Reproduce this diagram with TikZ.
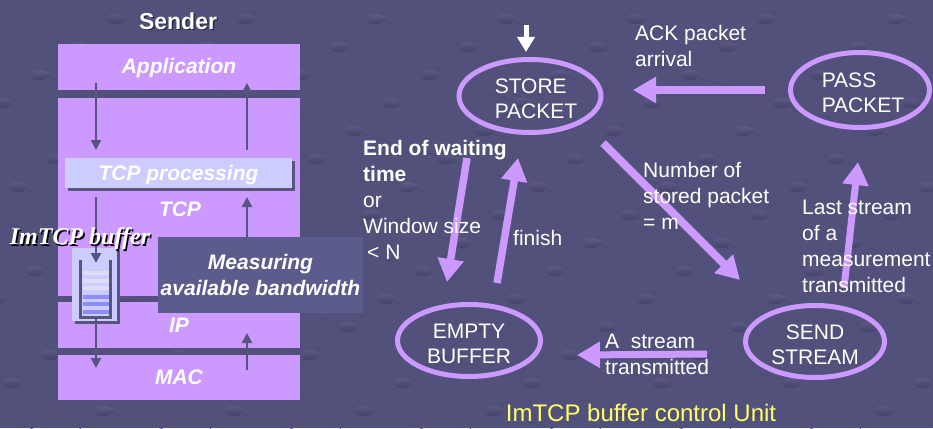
\documentclass[tikz,border=0pt]{standalone}
\usepackage{fontspec}
\setmainfont{Liberation Sans}
\newfontfamily\serifface{Liberation Serif}
\usetikzlibrary{arrows.meta,shapes.geometric,calc}

\definecolor{bg}{HTML}{51517B}
\definecolor{lav}{HTML}{CC99FF}
\definecolor{pale}{HTML}{CCCCFF}
\definecolor{ink}{HTML}{55557F}
\definecolor{meas}{HTML}{5B5B8C}
\definecolor{stripeA}{HTML}{DDDDF4}
\definecolor{stripeB}{HTML}{8C8CFF}
\definecolor{unitY}{HTML}{FFFF66}
\definecolor{shade}{HTML}{2A2A48}
\definecolor{gridline}{HTML}{4A4A73}
\definecolor{dotTop}{HTML}{5A5A86}
\definecolor{dotBot}{HTML}{424269}

\begin{document}
\begin{tikzpicture}[x=1pt,y=-1pt,
  lbl/.style={text=white,inner sep=0pt,font=\fontsize{21}{26}\selectfont},
  layer/.style={fill=lav,draw=none,inner sep=0pt,outer sep=0pt,anchor=north west,
    minimum width=242pt,text=white,text height=18pt,text depth=4pt,
    font=\fontsize{21}{26}\selectfont\bfseries\itshape},
  state/.style={ellipse,draw=lav,line width=5pt,inner sep=0pt,outer sep=0pt},
  statetext/.style={align=center,text=white,inner sep=0pt,yshift=-3pt,
    font=\fontsize{21}{25}\selectfont},
  bigarrow/.style={draw=lav,line width=8pt,-{Triangle[length=23pt,width=25pt]}},
  entryarrow/.style={draw=white,line width=5pt,-{Triangle[length=15pt,width=17pt]}},
  smallarrow/.style={draw=ink,line width=2.6pt,-{Triangle[length=10pt,width=10pt]}},
]
% canvas
\fill[bg] (0,0) rectangle (933,428);
\useasboundingbox (0,0) rectangle (933,428);

% faint floor grid of the backdrop
\begin{scope}
  \clip (0,0) rectangle (933,428);
  \foreach \j in {-14,...,16}
    \draw[gridline,line width=0.5pt]
      ($(760,215)+\j*(-38,28)+(-14*92,-14*28)$) -- ($(760,215)+\j*(-38,28)+(14*92,14*28)$);
  \foreach \i in {-14,...,14}
    \draw[gridline,line width=0.5pt]
      ($(760,215)+\i*(92,28)+(16*38,-16*28)$) -- ($(760,215)+\i*(92,28)+(-16*38,16*28)$);
  \foreach \i in {-12,...,10}
    \foreach \j in {-10,...,14}
      \shade[top color=dotTop,bottom color=dotBot]
        ($(760,215)+\i*(92,28)+\j*(-38,28)$) ellipse [x radius=10pt,y radius=5pt];
\end{scope}

% ---------- sender protocol stack ----------
\node[text=shade,font=\fontsize{23}{26}\selectfont\bfseries,inner sep=0pt] at (179.5,22.5) {Sender};
\node[text=white,font=\fontsize{23}{26}\selectfont\bfseries,inner sep=0pt] (sender) at (178,21) {Sender};

\node[layer,minimum height=46pt] (app) at (58,44) {Application};
\node[layer,minimum height=198pt] (tcp) at (58,98) {};
\node[layer,minimum height=46pt] (ip) at (58,302) {IP};
\node[layer,minimum height=45pt] (mac) at (58,355) {MAC};
\node[lbl,font=\fontsize{21}{26}\selectfont\bfseries\itshape] (tcplbl) at (180,209) {TCP};

% TCP processing bar with its shadow
\fill[ink] (68,161) rectangle (295,191);
\node[fill=pale,inner sep=0pt,outer sep=0pt,anchor=north west,minimum width=227pt,
  minimum height=30pt,text=white,text height=18pt,text depth=4pt,
  font=\fontsize{21}{26}\selectfont\bfseries\itshape]
  (proc) at (65,158) {TCP processing};

% ImTCP buffer (queue drawing)
\fill[ink] (75,251) rectangle (120,324);
\node[fill=pale,inner sep=0pt,outer sep=0pt,anchor=north west,minimum width=45pt,
  minimum height=73pt] (buf) at (72,248) {};
\draw[ink,line width=3pt] (80.5,260) -- (80.5,317) -- (110.5,317) -- (110.5,260);
\foreach \yy in {273,281,288} \fill[stripeA] (83,\yy-2) rectangle (109,\yy+2);
\foreach \yy in {297,304,312} \fill[stripeB] (83,\yy-2) rectangle (109,\yy+2);

% measurement box
\node[fill=meas,inner sep=0pt,outer sep=0pt,anchor=north west,minimum width=205pt,
  minimum height=76pt,align=center,text=white,font=\fontsize{21}{26}\selectfont\bfseries\itshape]
  (meas) at (158,237) {Measuring\\available bandwidth};

% data flow through the stack
\draw[smallarrow] ($(app.south west)+(38,-7)$) -- ($(proc.north west)+(31,-8)$);
\draw[smallarrow] ($(proc.south west)+(31,9)$) -- ($(buf.north west)+(24,15)$);
\draw[smallarrow] ($(buf.south west)+(24,-4)$) -- ($(mac.north west)+(38,13)$);
\draw[smallarrow] ($(proc.north west)+(182,-8)$) -- ($(app.south west)+(189,-7)$);
\draw[smallarrow] ($(meas.north west)+(89,0)$) -- ($(proc.south west)+(182,9)$);
\draw[smallarrow] ($(mac.north west)+(189,15)$) -- ($(ip.south west)+(189,-15)$);

% buffer caption
\node[text=black,font=\fontsize{24}{28}\serifface\bfseries\itshape,inner sep=0pt] at (81.5,240.5) {ImTCP buffer};
\node[text=white,font=\fontsize{24}{28}\serifface\bfseries\itshape,inner sep=0pt] (buflbl) at (80,239) {ImTCP buffer};

% ---------- buffer control unit (state machine) ----------
\node[state,minimum width=142pt,minimum height=73pt,
  label={[statetext,align=left,xshift=6pt]center:{STORE\\PACKET}}] (store) at (530,96) {};
\node[state,minimum width=139pt,minimum height=75pt,
  label={[statetext,align=left,xshift=3pt]center:{PASS\\PACKET}}] (pass) at (860,90) {};
\node[state,minimum width=139pt,minimum height=72pt,
  label={[statetext]center:{SEND\\STREAM}}] (send) at (815,341.5) {};
\node[state,minimum width=143pt,minimum height=72pt,
  label={[statetext]center:{EMPTY\\BUFFER}}] (empty) at (469,340.5) {};

\coordinate (entry) at (526,25);
\draw[entryarrow] (entry) -- ($(store.north)+(-4,-7.5)$);

\draw[bigarrow] ($(pass.west)+(-25.5,0)$) -- ($(store.east)+(32,-6)$);
\draw[bigarrow] ($(store.center)+(73,47)$) -- ($(send.center)+(-75,-61.5)$);
\draw[bigarrow,line width=7.5pt] ($(store.center)+(-63,62)$) -- ($(empty.center)+(-22,-58.5)$);
\draw[bigarrow,line width=7.5pt] ($(empty.center)+(28,-57.5)$) -- ($(store.center)+(-12,62)$);
\draw[bigarrow,line width=7pt] ($(send.center)+(-108,12.5)$) -- ($(empty.center)+(108,14.5)$);
\draw[bigarrow,line width=7pt] ($(send.center)+(29,-53.5)$) -- ($(pass.center)+(-2,72)$);

% transition labels
\node[lbl,anchor=west,align=left] (ack) at (635,46) {ACK packet\\arrival};
\node[lbl,anchor=west,align=left] (cond) at (363,200)
  {\textbf{End of waiting}\\\textbf{time}\\or\\Window size\\\hspace{4pt}< N};
\node[lbl,anchor=west] (fin) at (513,238) {finish};
\node[lbl,anchor=west,align=left] (num) at (643,196) {Number of\\stored packet\\= m};
\node[lbl,anchor=west,align=left] (last) at (802,246) {Last stream\\of a\\measurement\\transmitted};
\node[lbl,anchor=west,align=left] (astr) at (605,354) {A\ \ stream\\transmitted};
\node[lbl,text=unitY,font=\fontsize{24}{28}\selectfont] (unit) at (641,413) {ImTCP buffer control Unit};
\end{tikzpicture}
\end{document}
